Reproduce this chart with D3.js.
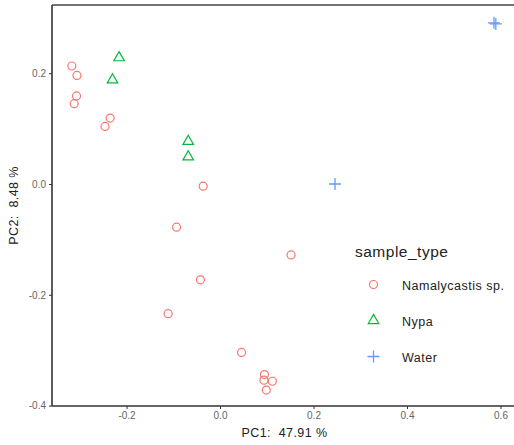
<!DOCTYPE html>
<html>
<head>
<meta charset="utf-8">
<script src="https://cdn.jsdelivr.net/npm/d3@7"></script>
<style>
  body { margin: 0; background: #fff; }
  svg { font-family: "Liberation Sans", Arial, Helvetica, sans-serif; }
  text { white-space: pre; }
</style>
</head>
<body>
<svg id="chart" width="514" height="445"></svg>
<script>
// PCA scores
const namalycastis = [
  [-0.317, 0.213], [-0.306, 0.196], [-0.307, 0.159], [-0.312, 0.145],
  [-0.235, 0.119], [-0.246, 0.104], [-0.036, -0.004], [-0.093, -0.078],
  [-0.042, -0.173], [-0.111, -0.234], [0.152, -0.128], [0.046, -0.304],
  [0.095, -0.344], [0.094, -0.354], [0.112, -0.356], [0.099, -0.372]
]
const nypa = [[-0.216, 0.228], [-0.230, 0.188], [-0.068, 0.077], [-0.068, 0.049]]
const water = [[0.586, 0.291], [0.590, 0.289], [0.246, 0.000]]

const groups = ['Namalycastis sp.', 'Nypa', 'Water']
const colors = ['#F8766D', '#00BA38', '#619CFF']
const xTicks = [-0.2, 0.0, 0.2, 0.4, 0.6]
const yTicks = [-0.4, -0.2, 0.0, 0.2]

const svg = d3.select('#chart')
const padL = 52, padR = 517, padT = 5, padB = 406

const x = d3.scaleLinear().domain([-0.3594, 0.6353]).range([padL, padR])
const y = d3.scaleLinear().domain([-0.4007, 0.3231]).range([padB, padT])

const fmt = d => d.toFixed(1)

// axes
const gx = svg.append('g').attr('transform', `translate(0,${padB})`)
  .call(d3.axisBottom(x).tickValues(xTicks).tickFormat(fmt).tickSize(3).tickSizeOuter(0))
const gy = svg.append('g').attr('transform', `translate(${padL},0)`)
  .call(d3.axisLeft(y).tickValues(yTicks).tickFormat(fmt).tickSize(3).tickSizeOuter(0))
;[gx, gy].forEach(g => {
  g.select('.domain').attr('stroke', '#333').attr('stroke-width', 1.6)
  g.selectAll('.tick line').attr('stroke', '#333')
  g.selectAll('.tick text').attr('fill', '#666').style('font-size', '10px')
})
gx.select('.domain').attr('d', `M${padL},0H514`)
gy.select('.domain').attr('d', `M0,${padT}V${padB}`)

// top border
svg.append('line').attr('x1', padL).attr('x2', 514).attr('y1', padT).attr('y2', padT)
  .attr('stroke', '#444').attr('stroke-width', 1.6)

// axis titles
svg.append('text').attr('x', (padL + padR) / 2).attr('y', 437)
  .attr('text-anchor', 'middle').style('font-size', '12.5px').style('letter-spacing', '0.4px')
  .attr('fill', '#222').text('PC1:  47.91 %')
svg.append('text')
  .attr('transform', `translate(18,${(padT + padB) / 2}) rotate(-90)`)
  .attr('text-anchor', 'middle').style('font-size', '12.5px').style('letter-spacing', '0.4px')
  .attr('fill', '#222').text('PC2:  8.48 %')

// points
const tri = d3.symbol().type(d3.symbolTriangle).size(48)

function drawCircle(g, cx, cy, c) {
  g.append('circle').attr('cx', cx).attr('cy', cy).attr('r', 4)
    .attr('fill', 'none').attr('stroke', c).attr('stroke-width', 1.2)
}
function drawTri(g, cx, cy, c) {
  g.append('path').attr('d', tri()).attr('transform', `translate(${cx},${cy})`)
    .attr('fill', 'none').attr('stroke', c).attr('stroke-width', 1.2)
}
function drawPlus(g, cx, cy, c) {
  g.append('path').attr('d', 'M-6,0H6M0,-6V6').attr('transform', `translate(${cx},${cy})`)
    .attr('fill', 'none').attr('stroke', c).attr('stroke-width', 1.3)
}

const pts = svg.append('g')
namalycastis.forEach(d => drawCircle(pts, x(d[0]), y(d[1]), colors[0]))
nypa.forEach(d => drawTri(pts, x(d[0]), y(d[1]), colors[1]))
water.forEach(d => drawPlus(pts, x(d[0]), y(d[1]), colors[2]))

// legend
const lg = svg.append('g')
lg.append('text').attr('x', 355).attr('y', 257).style('font-size', '15.5px')
  .style('letter-spacing', '0.5px').attr('fill', '#222').text('sample_type')
const drawers = [drawCircle, drawTri, drawPlus]
groups.forEach((name, i) => {
  const ky = 284.5 + i * 36
  drawers[i](lg, 373.5, ky, colors[i])
  lg.append('text').attr('x', 402).attr('y', ky + 5.5).style('font-size', '12.5px')
    .style('letter-spacing', '0.5px').attr('fill', '#222').text(name)
})
</script>
</body>
</html>
